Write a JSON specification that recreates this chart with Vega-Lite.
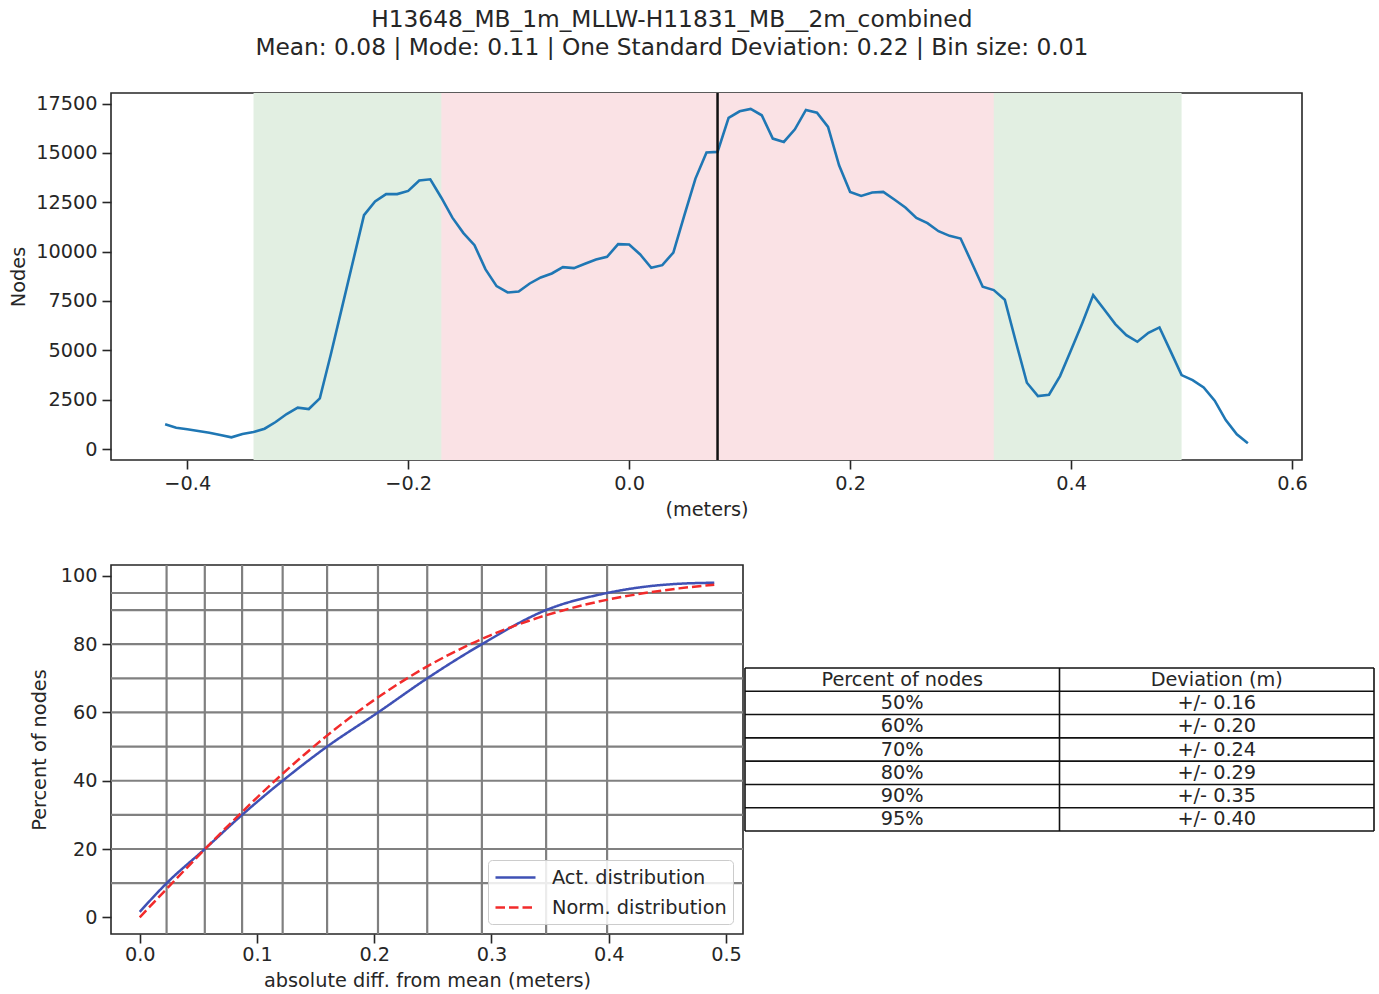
{
  "$schema": "https://vega.github.io/schema/vega-lite/v6.json",
  "padding": {"left": 8, "top": 7, "right": 0, "bottom": 0},
  "config": {
    "font": "DejaVu Sans",
    "view": {"stroke": "#262626", "strokeWidth": 1.6},
    "axis": {"domain": false, "grid": false, "ticks": true, "tickColor": "#262626", "tickWidth": 1.6, "tickSize": 9, "labelFontSize": 19.3, "labelColor": "#262626", "titleFontSize": 19.3, "titleFontWeight": "normal", "titleColor": "#262626", "labelPadding": 5, "titlePadding": 7, "labelFlush": false, "labelOverlap": false},
    "concat": {"spacing": 0}
  },
  "title": {"text": ["H13648_MB_1m_MLLW-H11831_MB__2m_combined", "Mean: 0.08 | Mode: 0.11 | One Standard Deviation: 0.22 | Bin size: 0.01"], "fontSize": 23.3, "fontWeight": "normal", "color": "#262626", "lineHeight": 28, "anchor": "middle", "frame": "bounds", "offset": 31, "dx": -20},
  "datasets": {
    "hist": [
      {"v": -0.42, "n": 1250}, {"v": -0.41, "n": 1078}, {"v": -0.40, "n": 997}, {"v": -0.39, "n": 911}, {"v": -0.38, "n": 827},
      {"v": -0.37, "n": 709}, {"v": -0.36, "n": 591}, {"v": -0.35, "n": 759}, {"v": -0.34, "n": 861}, {"v": -0.33, "n": 1029},
      {"v": -0.32, "n": 1367}, {"v": -0.31, "n": 1772}, {"v": -0.30, "n": 2092}, {"v": -0.29, "n": 2025}, {"v": -0.28, "n": 2565},
      {"v": -0.27, "n": 4800}, {"v": -0.26, "n": 7150}, {"v": -0.25, "n": 9500}, {"v": -0.24, "n": 11845}, {"v": -0.23, "n": 12540},
      {"v": -0.22, "n": 12915}, {"v": -0.21, "n": 12915}, {"v": -0.20, "n": 13075}, {"v": -0.19, "n": 13600}, {"v": -0.18, "n": 13665},
      {"v": -0.17, "n": 12730}, {"v": -0.16, "n": 11720}, {"v": -0.15, "n": 10940}, {"v": -0.14, "n": 10326}, {"v": -0.13, "n": 9100},
      {"v": -0.12, "n": 8251}, {"v": -0.11, "n": 7930}, {"v": -0.10, "n": 7980}, {"v": -0.09, "n": 8386}, {"v": -0.08, "n": 8690},
      {"v": -0.07, "n": 8892}, {"v": -0.06, "n": 9213}, {"v": -0.05, "n": 9162}, {"v": -0.04, "n": 9382}, {"v": -0.03, "n": 9601},
      {"v": -0.02, "n": 9736}, {"v": -0.01, "n": 10377}, {"v": 0.00, "n": 10360}, {"v": 0.01, "n": 9854}, {"v": 0.02, "n": 9179},
      {"v": 0.03, "n": 9314}, {"v": 0.04, "n": 9955}, {"v": 0.05, "n": 11845}, {"v": 0.06, "n": 13700}, {"v": 0.07, "n": 15018},
      {"v": 0.08, "n": 15051}, {"v": 0.09, "n": 16772}, {"v": 0.10, "n": 17110}, {"v": 0.11, "n": 17230}, {"v": 0.12, "n": 16907},
      {"v": 0.13, "n": 15726}, {"v": 0.14, "n": 15557}, {"v": 0.15, "n": 16198}, {"v": 0.16, "n": 17180}, {"v": 0.17, "n": 17042},
      {"v": 0.18, "n": 16316}, {"v": 0.19, "n": 14376}, {"v": 0.20, "n": 13026}, {"v": 0.21, "n": 12824}, {"v": 0.22, "n": 12992},
      {"v": 0.23, "n": 13026}, {"v": 0.24, "n": 12638}, {"v": 0.25, "n": 12233}, {"v": 0.26, "n": 11711}, {"v": 0.27, "n": 11440},
      {"v": 0.28, "n": 11035}, {"v": 0.29, "n": 10799}, {"v": 0.30, "n": 10664}, {"v": 0.31, "n": 9450}, {"v": 0.32, "n": 8218},
      {"v": 0.33, "n": 8049}, {"v": 0.34, "n": 7560}, {"v": 0.35, "n": 5433}, {"v": 0.36, "n": 3358}, {"v": 0.37, "n": 2683},
      {"v": 0.38, "n": 2751}, {"v": 0.39, "n": 3695}, {"v": 0.40, "n": 5011}, {"v": 0.41, "n": 6361}, {"v": 0.42, "n": 7795},
      {"v": 0.43, "n": 7070}, {"v": 0.44, "n": 6328}, {"v": 0.45, "n": 5771}, {"v": 0.46, "n": 5433}, {"v": 0.47, "n": 5889},
      {"v": 0.48, "n": 6159}, {"v": 0.49, "n": 4961}, {"v": 0.50, "n": 3746}, {"v": 0.51, "n": 3493}, {"v": 0.52, "n": 3122},
      {"v": 0.53, "n": 2447}, {"v": 0.54, "n": 1468}, {"v": 0.55, "n": 742}, {"v": 0.56, "n": 287}
    ],
    "cdf": [
      {"d": 0.000, "p": 1.6, "s": "Act. distribution"},
      {"d": 0.023, "p": 10.0, "s": "Act. distribution"},
      {"d": 0.0555, "p": 20.0, "s": "Act. distribution"},
      {"d": 0.0873, "p": 30.0, "s": "Act. distribution"},
      {"d": 0.1219, "p": 40.0, "s": "Act. distribution"},
      {"d": 0.1598, "p": 50.0, "s": "Act. distribution"},
      {"d": 0.2032, "p": 60.0, "s": "Act. distribution"},
      {"d": 0.2452, "p": 70.0, "s": "Act. distribution"},
      {"d": 0.2918, "p": 80.0, "s": "Act. distribution"},
      {"d": 0.3466, "p": 90.0, "s": "Act. distribution"},
      {"d": 0.3986, "p": 95.0, "s": "Act. distribution"},
      {"d": 0.43, "p": 96.8, "s": "Act. distribution"},
      {"d": 0.46, "p": 97.7, "s": "Act. distribution"},
      {"d": 0.49, "p": 98.0, "s": "Act. distribution"},
      {"d": 0.00, "p": 0.0, "s": "Norm. distribution"},
      {"d": 0.02, "p": 7.24, "s": "Norm. distribution"},
      {"d": 0.04, "p": 14.43, "s": "Norm. distribution"},
      {"d": 0.06, "p": 21.5, "s": "Norm. distribution"},
      {"d": 0.08, "p": 28.39, "s": "Norm. distribution"},
      {"d": 0.10, "p": 35.06, "s": "Norm. distribution"},
      {"d": 0.12, "p": 41.46, "s": "Norm. distribution"},
      {"d": 0.14, "p": 47.55, "s": "Norm. distribution"},
      {"d": 0.16, "p": 53.29, "s": "Norm. distribution"},
      {"d": 0.18, "p": 58.67, "s": "Norm. distribution"},
      {"d": 0.20, "p": 63.67, "s": "Norm. distribution"},
      {"d": 0.22, "p": 68.27, "s": "Norm. distribution"},
      {"d": 0.24, "p": 72.47, "s": "Norm. distribution"},
      {"d": 0.26, "p": 76.27, "s": "Norm. distribution"},
      {"d": 0.28, "p": 79.69, "s": "Norm. distribution"},
      {"d": 0.30, "p": 82.73, "s": "Norm. distribution"},
      {"d": 0.32, "p": 85.42, "s": "Norm. distribution"},
      {"d": 0.34, "p": 87.78, "s": "Norm. distribution"},
      {"d": 0.36, "p": 89.82, "s": "Norm. distribution"},
      {"d": 0.38, "p": 91.59, "s": "Norm. distribution"},
      {"d": 0.40, "p": 93.1, "s": "Norm. distribution"},
      {"d": 0.42, "p": 94.38, "s": "Norm. distribution"},
      {"d": 0.44, "p": 95.45, "s": "Norm. distribution"},
      {"d": 0.46, "p": 96.35, "s": "Norm. distribution"},
      {"d": 0.48, "p": 97.09, "s": "Norm. distribution"},
      {"d": 0.49, "p": 97.41, "s": "Norm. distribution"}
    ],
    "hgrid": [{"p": 10}, {"p": 20}, {"p": 30}, {"p": 40}, {"p": 50}, {"p": 60}, {"p": 70}, {"p": 80}, {"p": 90}, {"p": 95}],
    "vgrid": [{"d": 0.0229}, {"d": 0.0555}, {"d": 0.0873}, {"d": 0.1219}, {"d": 0.1598}, {"d": 0.2032}, {"d": 0.2452}, {"d": 0.2918}, {"d": 0.3466}, {"d": 0.3986}],
    "segs": [
      {"x": 0, "x2": 2, "y": 0, "y2": 0}, {"x": 0, "x2": 2, "y": 1, "y2": 1}, {"x": 0, "x2": 2, "y": 2, "y2": 2},
      {"x": 0, "x2": 2, "y": 3, "y2": 3}, {"x": 0, "x2": 2, "y": 4, "y2": 4}, {"x": 0, "x2": 2, "y": 5, "y2": 5},
      {"x": 0, "x2": 2, "y": 6, "y2": 6}, {"x": 0, "x2": 2, "y": 7, "y2": 7},
      {"x": 0, "x2": 0, "y": 0, "y2": 7}, {"x": 1, "x2": 1, "y": 0, "y2": 7}, {"x": 2, "x2": 2, "y": 0, "y2": 7}
    ],
    "cells": [
      {"c": 0.5, "r": 0.5, "t": "Percent of nodes"}, {"c": 1.5, "r": 0.5, "t": "Deviation (m)"},
      {"c": 0.5, "r": 1.5, "t": "50%"}, {"c": 1.5, "r": 1.5, "t": "+/- 0.16"},
      {"c": 0.5, "r": 2.5, "t": "60%"}, {"c": 1.5, "r": 2.5, "t": "+/- 0.20"},
      {"c": 0.5, "r": 3.5, "t": "70%"}, {"c": 1.5, "r": 3.5, "t": "+/- 0.24"},
      {"c": 0.5, "r": 4.5, "t": "80%"}, {"c": 1.5, "r": 4.5, "t": "+/- 0.29"},
      {"c": 0.5, "r": 5.5, "t": "90%"}, {"c": 1.5, "r": 5.5, "t": "+/- 0.35"},
      {"c": 0.5, "r": 6.5, "t": "95%"}, {"c": 1.5, "r": 6.5, "t": "+/- 0.40"}
    ]
  },
  "spacing": 42,
  "resolve": {"legend": {"color": "independent", "strokeDash": "independent"}, "scale": {"x": "independent", "y": "independent"}},
  "vconcat": [
    {
      "width": 1191,
      "height": 367,
      "layer": [
        {
          "data": {"values": [{"a": -0.34, "b": 0.50}]},
          "mark": {"type": "rect", "color": "#e2efe2"},
          "encoding": {"x": {"field": "a", "type": "quantitative"}, "x2": {"field": "b"}}
        },
        {
          "data": {"values": [{"a": -0.17, "b": 0.33}]},
          "mark": {"type": "rect", "color": "#fae2e5"},
          "encoding": {"x": {"field": "a", "type": "quantitative"}, "x2": {"field": "b"}}
        },
        {
          "data": {"name": "hist"},
          "mark": {"type": "line", "color": "#1f77b4", "strokeWidth": 2.6},
          "encoding": {
            "x": {"field": "v", "type": "quantitative", "title": "(meters)", "scale": {"domain": [-0.469, 0.609], "nice": false, "zero": false}, "axis": {"values": [-0.4, -0.2, 0, 0.2, 0.4, 0.6], "format": ".1f"}},
            "y": {"field": "n", "type": "quantitative", "title": "Nodes", "scale": {"domain": [-557, 18036], "nice": false, "zero": false}, "axis": {"values": [0, 2500, 5000, 7500, 10000, 12500, 15000, 17500], "format": "d"}}
          }
        },
        {
          "data": {"values": [{"m": 0.08}]},
          "mark": {"type": "rule", "color": "#111111", "strokeWidth": 2.5},
          "encoding": {"x": {"field": "m", "type": "quantitative"}}
        }
      ]
    },
    {
      "spacing": -5,
      "resolve": {"legend": {"color": "independent", "strokeDash": "independent"}, "scale": {"x": "independent", "y": "independent"}},
      "hconcat": [
        {
          "width": 632,
          "height": 369,
          "layer": [
            {
              "data": {"name": "hgrid"},
              "mark": {"type": "rule", "color": "#808080", "strokeWidth": 2.2},
              "encoding": {"y": {"field": "p", "type": "quantitative"}}
            },
            {
              "data": {"name": "vgrid"},
              "mark": {"type": "rule", "color": "#808080", "strokeWidth": 2.2},
              "encoding": {"x": {"field": "d", "type": "quantitative"}}
            },
            {
              "data": {"name": "cdf"},
              "mark": {"type": "line", "strokeWidth": 2.5, "interpolate": "monotone"},
              "encoding": {
                "x": {"field": "d", "type": "quantitative", "title": "absolute diff. from mean (meters)", "scale": {"domain": [-0.0245, 0.5145], "nice": false, "zero": false}, "axis": {"values": [0, 0.1, 0.2, 0.3, 0.4, 0.5], "format": ".1f", "labelPadding": 2}},
                "y": {"field": "p", "type": "quantitative", "title": "Percent of nodes", "scale": {"domain": [-4.9, 103.2], "nice": false, "zero": false}, "axis": {"values": [0, 20, 40, 60, 80, 100], "format": "d", "titlePadding": 11}},
                "color": {"field": "s", "type": "nominal", "scale": {"domain": ["Act. distribution", "Norm. distribution"], "range": ["#3f51b5", "#f22b2b"]}, "legend": {"title": null, "orient": "bottom-right", "offset": 10, "fillColor": "rgba(255,255,255,0.85)", "strokeColor": "#cccccc", "cornerRadius": 4, "padding": 6, "labelFontSize": 19.3, "labelColor": "#262626", "labelLimit": 400, "symbolType": "M-1,0H3", "symbolSize": 400, "symbolStrokeWidth": 2.5, "labelOffset": 35, "rowPadding": 8}},
                "strokeDash": {"field": "s", "type": "nominal", "scale": {"domain": ["Act. distribution", "Norm. distribution"], "range": [[1, 0], [9.5, 4]]}, "legend": null}
              }
            }
          ]
        },
        {
          "width": 629,
          "height": 369,
          "view": {"stroke": null},
          "layer": [
            {
              "data": {"name": "segs"},
              "mark": {"type": "rule", "color": "#111111", "strokeWidth": 1.6},
              "encoding": {
                "x": {"field": "x", "type": "quantitative", "scale": {"domain": [0, 2], "nice": false, "zero": false}, "axis": null},
                "x2": {"field": "x2"},
                "y": {"field": "y", "type": "quantitative", "scale": {"domain": [-4.42, 11.42], "nice": false, "zero": false, "reverse": true}, "axis": null},
                "y2": {"field": "y2"}
              }
            },
            {
              "data": {"name": "cells"},
              "mark": {"type": "text", "fontSize": 19.3, "color": "#262626", "align": "center", "baseline": "middle"},
              "encoding": {
                "x": {"field": "c", "type": "quantitative"},
                "y": {"field": "r", "type": "quantitative"},
                "text": {"field": "t"}
              }
            }
          ]
        }
      ]
    }
  ]
}
